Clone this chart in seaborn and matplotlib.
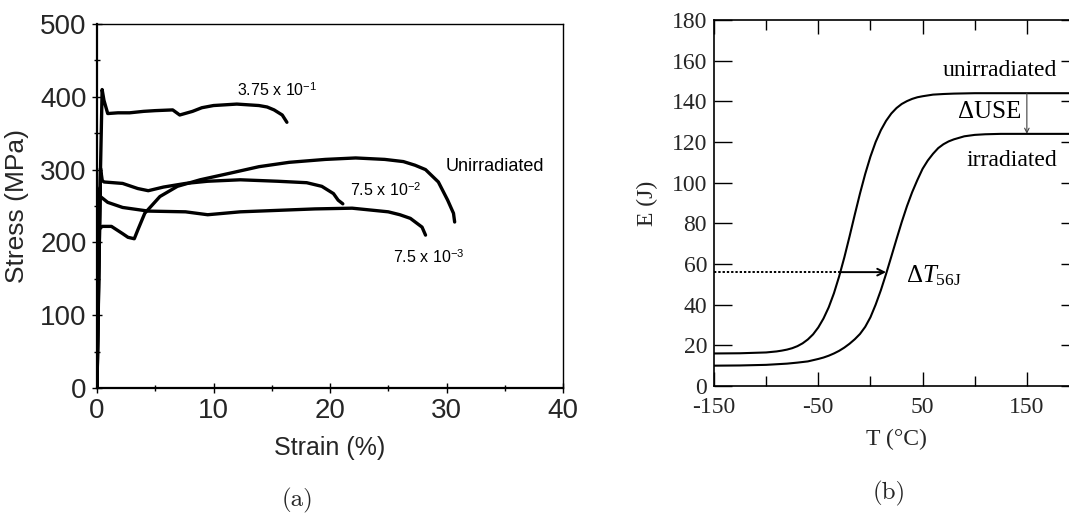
import matplotlib
matplotlib.use("Agg")
import matplotlib.pyplot as plt
import seaborn as sns
import pandas as pd
from matplotlib.ticker import MultipleLocator, FixedLocator

# ---------------- (a) tensile curves ----------------
strain_375e1 = [0, 0.1, 0.2, 0.3, 0.44, 0.6, 0.92, 1.8, 2.8, 4.0, 5.0, 6.5, 7.1, 8.2, 9.0, 10.0, 11.0, 12.0, 13.9, 14.6, 15.2, 15.9, 16.3]
stress_375e1 = [0, 95, 195, 300, 410, 395, 377, 378, 378, 380, 381, 382, 375, 380, 385, 388, 389, 390, 388, 386, 382, 375, 365]

strain_unirr = [0, 0.13, 0.44, 1.24, 2.2, 2.66, 3.2, 3.5, 4.1, 5.4, 6.9, 8.85, 11.4, 13.9, 16.5, 19.6, 22.2, 24.7, 26.3, 27.3, 28.2, 29.3, 30.1, 30.6, 30.7]
stress_unirr = [0, 217, 222, 222, 212, 207, 205, 217, 240, 263, 277, 286, 295, 304, 310, 314, 316, 314, 311, 306, 300, 283, 258, 240, 228]

strain_75e2 = [0, 0.3, 0.45, 0.6, 2.2, 3.5, 4.4, 5.7, 7.6, 9.5, 12.3, 15.5, 18.0, 19.3, 20.3, 20.7, 21.1]
stress_75e2 = [0, 302, 285, 283, 281, 274, 271, 276, 281, 284, 286, 284, 282, 277, 267, 258, 253]

strain_75e3 = [0, 0.25, 0.29, 0.92, 2.2, 4.4, 7.6, 9.5, 12.3, 15.5, 18.7, 21.9, 25.0, 26.0, 26.9, 27.9, 28.2]
stress_75e3 = [0, 275, 263, 255, 248, 243, 242, 238, 242, 244, 246, 247, 242, 238, 233, 221, 210]

# ---------------- (b) Charpy transition curves ----------------
temp_unirr = [-150, -125, -100, -90, -85, -80, -75, -70, -65, -60, -55, -50, -45, -40, -35, -30, -25, -20, -15, -10, -5,
              0, 5, 10, 15, 20, 25, 30, 35, 40, 45, 50, 60, 70, 80, 100, 125, 150, 200]
energy_unirr = [16.0, 16.1, 16.5, 17.0, 17.4, 17.9, 18.6, 19.6, 21.0, 22.9, 25.4, 28.8, 33.2, 38.7, 45.6, 53.9, 63.3, 73.6, 84.3, 94.7, 104.3,
                112.8, 120.0, 125.8, 130.4, 134.0, 136.7, 138.7, 140.1, 141.2, 142.0, 142.5, 143.3, 143.6, 143.8, 144.0, 144.0, 144.0, 144.0]

temp_irr = [-150, -125, -100, -90, -80, -70, -60, -50, -45, -40, -35, -30, -25, -20, -15, -10, -5,
            0, 5, 10, 15, 20, 25, 30, 35, 40, 45, 50, 55, 60, 65, 70, 75, 80, 90, 100, 110, 125, 150, 200]
energy_irr = [10.0, 10.1, 10.4, 10.7, 11.0, 11.5, 12.1, 13.3, 14.0, 14.9, 16.0, 17.3, 18.9, 20.8, 23.0, 25.6, 29.1,
              33.8, 40.0, 47.1, 55.1, 63.6, 72.2, 80.6, 88.4, 95.3, 101.3, 106.8, 110.9, 114.2, 117.0, 118.9, 120.3, 121.3, 122.8, 123.5, 123.8, 124.0, 124.0, 124.0]

e_ref = 56
t_ref_unirr = -29
t_ref_irr = 15
use_temp = 150

sns.set_theme(style="white")
plt.rcParams["mathtext.fontset"] = "custom"
plt.rcParams["mathtext.rm"] = "Liberation Serif"
plt.rcParams["mathtext.it"] = "Liberation Serif:italic"
plt.rcParams["axes.unicode_minus"] = False

sans = ["Liberation Sans", "DejaVu Sans"]
serif = ["Liberation Serif", "DejaVu Serif"]
caption = ["cmr10", "DejaVu Serif"]

fig = plt.figure(figsize=(10.69, 5.15), dpi=100)
ax1 = fig.add_axes([97 / 1069, 1 - 388 / 515, 466 / 1069, 364 / 515])
ax2 = fig.add_axes([714 / 1069, 1 - 386 / 515, 365 / 1069, 366 / 515])

frames = []
for name, xs, ys in [("3.75e-1", strain_375e1, stress_375e1), ("unirradiated", strain_unirr, stress_unirr),
                     ("7.5e-2", strain_75e2, stress_75e2), ("7.5e-3", strain_75e3, stress_75e3)]:
    frames.append(pd.DataFrame({"strain": xs, "stress": ys, "dose": name}))
tensile = pd.concat(frames, ignore_index=True)

sns.lineplot(data=tensile, x="strain", y="stress", units="dose", estimator=None, sort=False,
             color="black", lw=2.4, ax=ax1)
ax1.set_xlim(0, 40)
ax1.set_ylim(0, 500)
ax1.xaxis.set_major_locator(MultipleLocator(10))
ax1.xaxis.set_minor_locator(MultipleLocator(5))
ax1.yaxis.set_major_locator(MultipleLocator(100))
ax1.yaxis.set_minor_locator(MultipleLocator(50))
ax1.tick_params(axis="both", which="both", direction="inout", bottom=True, left=True, top=False, right=False,
                color="black", width=1.0)
ax1.tick_params(axis="both", which="major", length=7, labelsize=20, pad=4)
ax1.tick_params(axis="both", which="minor", length=5)
for lab in ax1.get_xticklabels() + ax1.get_yticklabels():
    lab.set_family(sans)
for side, sp in ax1.spines.items():
    sp.set_color("black")
    sp.set_linewidth(1.6 if side in ("left", "bottom") else 1.0)
ax1.set_xlabel("Strain (%)", family=sans, fontsize=18, labelpad=8)
ax1.set_ylabel("Stress (MPa)", family=sans, fontsize=19, labelpad=8)

ann_kw = dict(family=sans, color="black", va="center", ha="left")
ax1.text(12.0, 409, r"3.75 x 10$^{\mathregular{-1}}$", fontsize=11.5, **ann_kw)
ax1.text(29.9, 304, "Unirradiated", fontsize=13, **ann_kw)
ax1.text(21.7, 272, r"7.5 x 10$^{\mathregular{-2}}$", fontsize=11.5, **ann_kw)
ax1.text(25.4, 180, r"7.5 x 10$^{\mathregular{-3}}$", fontsize=11.5, **ann_kw)

charpy = pd.concat([
    pd.DataFrame({"T": temp_unirr, "E": energy_unirr, "state": "unirradiated"}),
    pd.DataFrame({"T": temp_irr, "E": energy_irr, "state": "irradiated"}),
], ignore_index=True)
sns.lineplot(data=charpy, x="T", y="E", units="state", estimator=None, sort=False,
             color="black", lw=1.5, ax=ax2)
ax2.set_xlim(-150, 200)
ax2.set_ylim(0, 180)
ax2.xaxis.set_major_locator(FixedLocator([-150, -50, 50, 150]))
ax2.xaxis.set_minor_locator(FixedLocator([-100, 0, 100]))
ax2.yaxis.set_major_locator(MultipleLocator(20))
ax2.tick_params(axis="both", which="both", direction="in", bottom=True, left=True, top=True, right=True,
                color="black", width=1.0)
ax2.tick_params(axis="x", which="major", length=10, labelsize=17, pad=8)
ax2.tick_params(axis="x", which="minor", length=7)
ax2.tick_params(axis="y", which="major", length=13, labelsize=17, pad=5)
for lab in ax2.get_xticklabels() + ax2.get_yticklabels():
    lab.set_family(serif)
for sp in ax2.spines.values():
    sp.set_color("black")
    sp.set_linewidth(1.2)
ax2.set_xlabel("T (°C)", family=serif, fontsize=17, labelpad=8)
ax2.set_ylabel("E (J)", family=serif, fontsize=17, labelpad=10)

ax2.plot([-150, t_ref_unirr], [e_ref, e_ref], color="black", lw=1.4, ls=(0, (1.2, 1.0)))
ax2.annotate("", xy=(t_ref_irr, e_ref), xytext=(t_ref_unirr, e_ref),
             arrowprops=dict(arrowstyle="->", color="black", lw=1.4, shrinkA=0, shrinkB=0))
ax2.annotate("", xy=(use_temp, energy_irr[-1]), xytext=(use_temp, energy_unirr[-1]),
             arrowprops=dict(arrowstyle="->", color="0.25", lw=0.8, shrinkA=0, shrinkB=0,
                             mutation_scale=8))

txt_kw = dict(family=serif, fontsize=17, color="black", va="center")
ax2.text(179, 155, "unirradiated", ha="right", **txt_kw)
ax2.text(179, 111, "irradiated", ha="right", **txt_kw)
ax2.text(145, 135, "ΔUSE", ha="right", family=serif, fontsize=18, color="black", va="center")
ax2.text(34, 54, r"Δ$\mathit{T}_{\mathregular{56J}}$", ha="left", family=serif, fontsize=18,
         color="black", va="center")

fig.text(297 / 1069, 1 - 500 / 515, "(a)", family=caption, fontsize=18, ha="center", va="center")
fig.text(889 / 1069, 1 - 493 / 515, "(b)", family=caption, fontsize=18, ha="center", va="center")

fig.savefig("out.png", dpi=100)
